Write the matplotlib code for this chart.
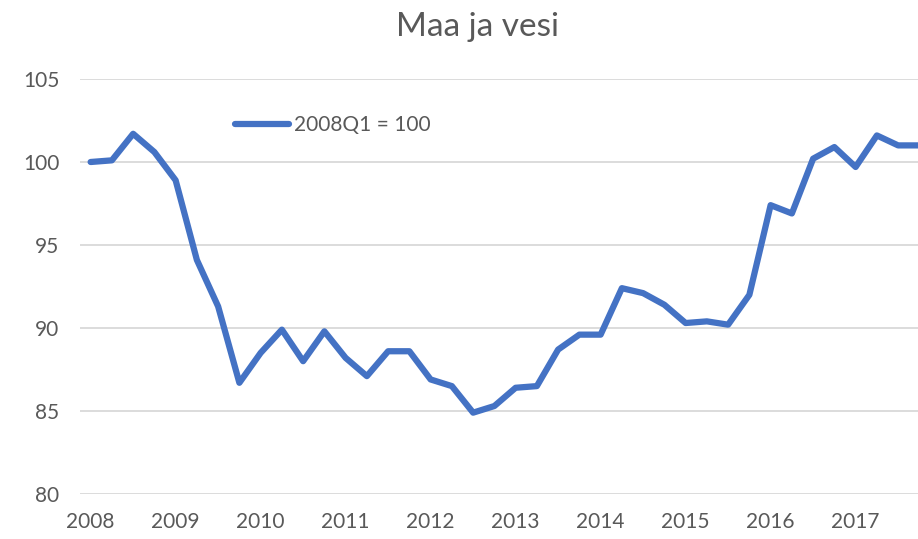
import matplotlib
matplotlib.use("Agg")
import matplotlib.pyplot as plt
import numpy as np

# quarterly index, 2008Q1 = 100
years = [2008, 2009, 2010, 2011, 2012, 2013, 2014, 2015, 2016, 2017]
values = [
    100.0, 100.1, 101.7, 100.6,
    98.9, 94.1, 91.3, 86.7,
    88.5, 89.9, 88.0, 89.8,
    88.2, 87.1, 88.6, 88.6,
    86.9, 86.5, 84.9, 85.3,
    86.4, 86.5, 88.7, 89.6,
    89.6, 92.4, 92.1, 91.4,
    90.3, 90.4, 90.2, 92.0,
    97.4, 96.9, 100.2, 100.9,
    99.7, 101.6, 101.0, 101.0,
]
series_label = "2008Q1 = 100"
title = "Maa ja vesi"

text_color = "#595959"
line_color = "#4472C4"
grid_color = "#D9D9D9"

plt.rcParams["font.family"] = ["Lato", "DejaVu Sans"]

fig = plt.figure(figsize=[9.18, 5.39], dpi=100)
W, H = 918, 539
ax = fig.add_axes([80 / W, (H - 494) / H, (930 - 80) / W, (494 - 79) / H])

x = np.arange(len(values))
ax.plot(x, values, color=line_color, linewidth=4.5, solid_capstyle="round",
        solid_joinstyle="round", label=series_label)

ax.set_xlim(-0.5, len(values) - 0.5)
ax.set_ylim(80, 105)
ax.set_yticks(np.arange(80, 106, 5))
ax.set_xticks(np.arange(0, len(values), 4))
ax.set_xticklabels([str(y) for y in years])

ax.grid(axis="y", color=grid_color, linewidth=1.3)
ax.set_axisbelow(True)
for s in ax.spines.values():
    s.set_visible(False)
ax.tick_params(axis="both", length=0, labelsize=15, colors=text_color)
ax.tick_params(axis="y", pad=15)
ax.tick_params(axis="x", pad=13)

fig.text(478 / W, (H - 27) / H, title, ha="center", va="center",
         fontsize=24, color=text_color)

leg = fig.legend(loc="center left", bbox_to_anchor=(216 / W, (H - 125) / H),
                 frameon=False, fontsize=15, handlelength=2.6, handletextpad=0.25,
                 labelcolor=text_color)

fig.savefig("out.png", dpi=100)
